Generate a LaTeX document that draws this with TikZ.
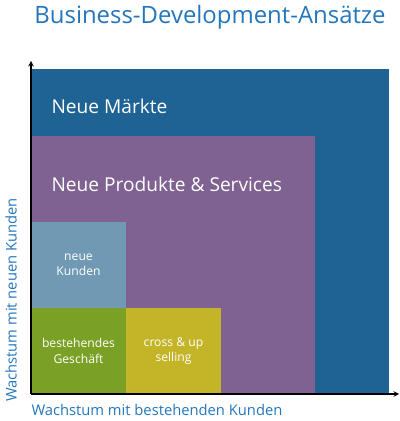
\documentclass[tikz,border=0pt]{standalone}
\usepackage{fontspec}
\setmainfont{Open Sans}
\usepackage{tikz}
\usetikzlibrary{positioning}

\definecolor{TitleBlue}{RGB}{36,118,188}
\definecolor{MarktBlue}{RGB}{31,99,148}
\definecolor{ProdPurple}{RGB}{128,98,146}
\definecolor{KundBlue}{RGB}{112,154,180}
\definecolor{GeschGreen}{RGB}{122,160,38}
\definecolor{CrossYellow}{RGB}{196,180,40}

\tikzset{
	field/.style={anchor=south west, inner sep=0pt, outer sep=0pt},
	biglabel/.style={text=white, font=\fontsize{19.2}{22}\selectfont, anchor=west},
	smalllabel/.style={text=white, font=\fontsize{12.2}{15.5}\selectfont, align=center},
	axislabel/.style={text=TitleBlue, font=\fontsize{14.8}{17}\selectfont}
}

\begin{document}
\begin{tikzpicture}
	[x=1bp, y=1bp]
	\useasboundingbox (0,0) rectangle (400,421);
	\coordinate (O) at (31,27);
	% fields
	\node[field, fill=MarktBlue, minimum width=358bp, minimum height=325bp] (maerkte) at (O) {};
	\node[field, fill=ProdPurple, minimum width=284bp, minimum height=258bp] (produkte) at (O) {};
	\node[field, fill=GeschGreen, minimum width=95bp, minimum height=86bp] (geschaeft) at (O) {};
	\node[field, fill=KundBlue, minimum width=95bp, minimum height=86bp] (kunden) at (geschaeft.north west) {};
	\node[field, fill=CrossYellow, minimum width=95bp, minimum height=86bp] (cross) at (geschaeft.south east) {};
	% labels
	\node[biglabel] (maerktetext) at (48,315) {Neue Märkte};
	\node[biglabel] (produktetext) at (48,237) {Neue Produkte \& Services};
	\node[smalllabel] (kundentext) at (kunden.center) {neue\\Kunden};
	\node[smalllabel] (geschaefttext) at (geschaeft.center) {bestehendes\\Geschäft};
	\node[smalllabel] (crosstext) at (cross.center) {cross \& up\\selling};
	% axes
	\coordinate (ytop) at (31,360);
	\coordinate (xend) at (399,27);
	\draw[line width=1.4bp, -stealth] (O) -- (ytop);
	\draw[line width=1.4bp, -stealth] (O) -- (xend);
	\node[axislabel, anchor=west] (xlabel) at (28,11) {Wachstum mit bestehenden Kunden};
	\node[axislabel, rotate=90] (ylabel) at (11,121) {Wachstum mit neuen Kunden};
	\node[text=TitleBlue, font=\fontsize{24}{28}\selectfont] (title) at (210,404) {Business-Development-Ansätze};
\end{tikzpicture}
\end{document}
